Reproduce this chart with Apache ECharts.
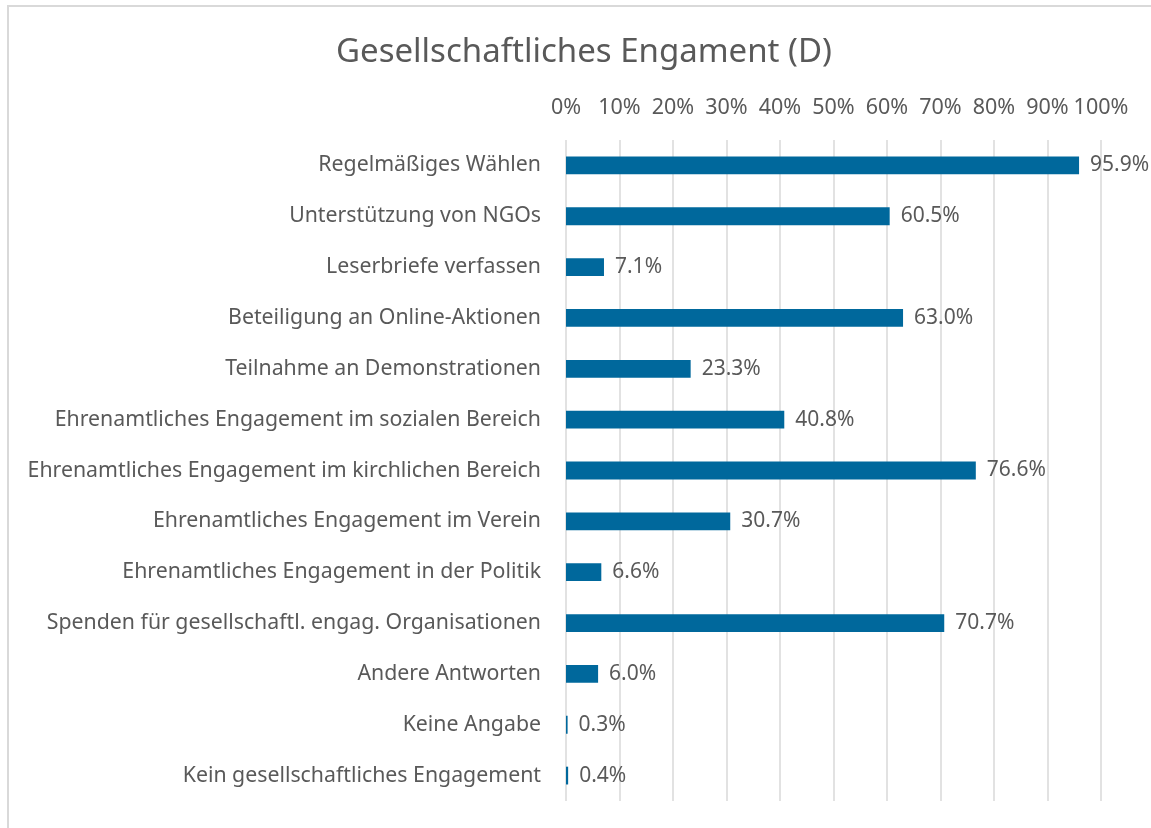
<!DOCTYPE html>
<html>
<head>
<meta charset="utf-8">
<title>Gesellschaftliches Engament (D)</title>
<script src="https://cdn.jsdelivr.net/npm/echarts@6/dist/echarts.min.js"></script>
<style>
  html, body { margin: 0; padding: 0; background: #ffffff; }
  #chart { width: 1151px; height: 828px; }
</style>
</head>
<body>
<div id="chart"></div>
<script>
// Answer categories, listed top to bottom
const categories = [
  'Regelmäßiges Wählen',
  'Unterstützung von NGOs',
  'Leserbriefe verfassen',
  'Beteiligung an Online-Aktionen',
  'Teilnahme an Demonstrationen',
  'Ehrenamtliches Engagement im sozialen Bereich',
  'Ehrenamtliches Engagement im kirchlichen Bereich',
  'Ehrenamtliches Engagement im Verein',
  'Ehrenamtliches Engagement in der Politik',
  'Spenden für gesellschaftl. engag. Organisationen',
  'Andere Antworten',
  'Keine Angabe',
  'Kein gesellschaftliches Engagement'
];

// Share of respondents in percent
const shares = [95.9, 60.5, 7.1, 63.0, 23.3, 40.8, 76.6, 30.7, 6.6, 70.7, 6.0, 0.3, 0.4];

// Percentage axis ticks
const axisTicks = [0, 10, 20, 30, 40, 50, 60, 70, 80, 90, 100];

const FONT = '"Noto Sans", sans-serif';
const TEXT = '#595959';

const chart = echarts.init(document.getElementById('chart'), null, { renderer: 'canvas' });

chart.setOption({
  animation: false,
  backgroundColor: '#ffffff',
  textStyle: { fontFamily: FONT, color: TEXT },
  title: {
    text: 'Gesellschaftliches Engament (D)',
    left: 579,
    top: 31,
    textAlign: 'center',
    textStyle: { fontFamily: FONT, fontSize: 33, fontWeight: 'normal', color: TEXT }
  },
  // thin frame around the chart area
  graphic: [{
    type: 'rect',
    silent: true,
    shape: { x: 8, y: 6, width: 1200, height: 900 },
    style: { fill: 'none', stroke: '#d9d9d9', lineWidth: 2 }
  }],
  grid: { left: 566, right: 50, top: 140, bottom: 27, containLabel: false },
  xAxis: {
    type: 'value',
    position: 'top',
    min: axisTicks[0],
    max: axisTicks[axisTicks.length - 1],
    interval: axisTicks[1] - axisTicks[0],
    axisLine: { show: false },
    axisTick: { show: false },
    splitLine: { show: true, lineStyle: { color: '#d9d9d9', width: 1.5 } },
    axisLabel: {
      margin: 21,
      fontFamily: FONT,
      fontSize: 21.5,
      color: TEXT,
      formatter: v => v + '%'
    }
  },
  yAxis: {
    type: 'category',
    inverse: true,
    data: categories,
    axisLine: { show: false },
    axisTick: { show: false },
    splitLine: { show: false },
    axisLabel: {
      margin: 25,
      padding: [4, 0, 0, 0],
      fontFamily: FONT,
      fontSize: 21.3,
      color: TEXT
    }
  },
  series: [{
    type: 'bar',
    data: shares,
    barWidth: '35%',
    itemStyle: { color: '#00689c' },
    label: {
      show: true,
      position: 'right',
      distance: 11,
      padding: [4, 0, 0, 0],
      fontFamily: FONT,
      fontSize: 21,
      color: TEXT,
      formatter: p => p.value.toFixed(1) + '%'
    }
  }]
});
</script>
</body>
</html>
